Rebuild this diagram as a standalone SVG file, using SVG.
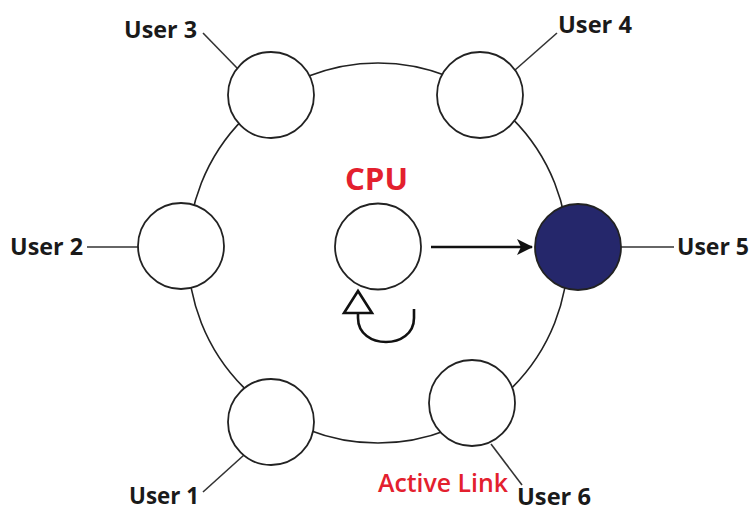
<svg xmlns="http://www.w3.org/2000/svg" width="752" height="512" viewBox="0 0 752 512">
  <style>
    .ring { fill: none; stroke: #222; stroke-width: 1.6; }
    .lead { fill: none; stroke: #333; stroke-width: 1.6; }
    .lead-h { fill: none; stroke: #666; stroke-width: 1.8; }
    .node { fill: #fff; stroke: #222; stroke-width: 1.8; }
    .node-active { fill: #25276b; stroke: #222; stroke-width: 1.8; }
    .label { font-family: "Open Sans", "Liberation Sans", sans-serif; font-weight: 700; font-size: 24px; fill: #1a1a1a; }
    .red { font-family: "Open Sans", "Liberation Sans", sans-serif; fill: #e3202e; }
    .flow { fill: none; stroke: #111; stroke-width: 2.6; }
  </style>
  <defs>
    <marker id="head" viewBox="0 0 16 16" refX="15" refY="8" markerWidth="16" markerHeight="16" markerUnits="userSpaceOnUse" orient="auto">
      <path d="M0,0 L16,8 L0,16 L4,8 Z" fill="#111"/>
    </marker>
  </defs>

  <!-- ring and connectors -->
  <g id="connectors">
    <circle class="ring" cx="378" cy="253" r="190"/>
    <line class="lead" x1="203" y1="33" x2="238" y2="69"/>
    <line class="lead" x1="557" y1="33" x2="515" y2="70"/>
    <line class="lead-h" x1="87" y1="247" x2="139" y2="247"/>
    <line class="lead-h" x1="620" y1="247" x2="674" y2="247"/>
    <line class="lead" x1="203" y1="492" x2="244" y2="455"/>
    <line class="lead" x1="491" y1="444" x2="522" y2="485"/>
    <!-- CPU to User 5 -->
    <line class="flow" x1="431" y1="247" x2="532" y2="247" marker-end="url(#head)"/>
    <!-- turn indicator under the CPU -->
    <path class="flow" d="M358,313 L358,318 C358,350 414,350 414,318 L414,309"/>
    <polygon class="flow" points="358,291 344,313 372,313" fill="#fff"/>
  </g>

  <g id="cpu">
    <circle class="node" cx="378" cy="246.5" r="43"/>
    <text class="red" x="345" y="190" font-size="31" font-weight="700" textLength="63" lengthAdjust="spacingAndGlyphs">CPU</text>
  </g>

  <g id="user1">
    <circle class="node" cx="271" cy="422" r="43"/>
    <text class="label" x="129" y="504" textLength="70" lengthAdjust="spacingAndGlyphs">User 1</text>
  </g>

  <g id="user2">
    <circle class="node" cx="181" cy="246" r="43"/>
    <text class="label" x="10" y="255" textLength="73" lengthAdjust="spacingAndGlyphs">User 2</text>
  </g>

  <g id="user3">
    <circle class="node" cx="271" cy="95" r="43"/>
    <text class="label" x="124" y="38" textLength="73" lengthAdjust="spacingAndGlyphs">User 3</text>
  </g>

  <g id="user4">
    <circle class="node" cx="480" cy="95" r="43"/>
    <text class="label" x="558" y="33" textLength="74" lengthAdjust="spacingAndGlyphs">User 4</text>
  </g>

  <g id="user5">
    <circle class="node-active" cx="578" cy="247" r="43"/>
    <text class="label" x="677" y="255" textLength="72" lengthAdjust="spacingAndGlyphs">User 5</text>
  </g>

  <g id="user6">
    <circle class="node" cx="472" cy="403" r="43"/>
    <text class="label" x="517" y="505" textLength="74" lengthAdjust="spacingAndGlyphs">User 6</text>
    <text class="red" x="378" y="492" font-size="25" font-weight="600" textLength="130" lengthAdjust="spacingAndGlyphs">Active Link</text>
  </g>
</svg>
